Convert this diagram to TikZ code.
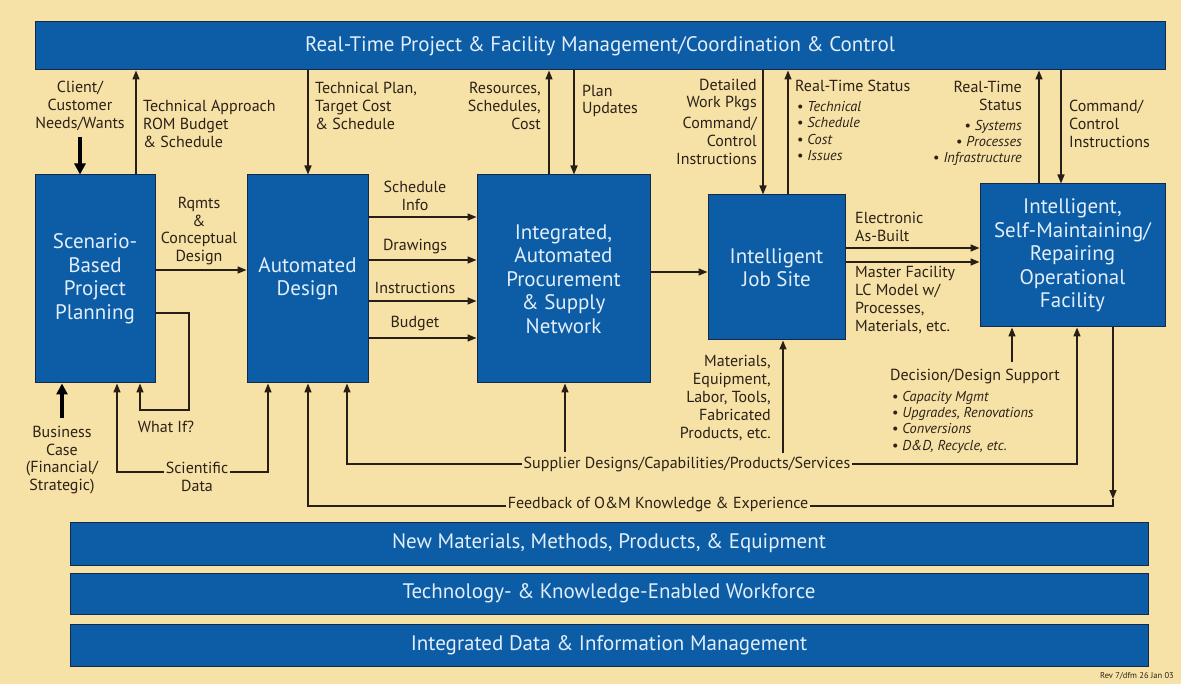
\documentclass[tikz,border=0pt]{standalone}
\usepackage{fontspec}
\setmainfont{PT Sans}
\usetikzlibrary{arrows.meta}
\definecolor{bgc}{HTML}{F6E2A6}
\definecolor{boxc}{HTML}{0C5CA6}
\definecolor{edgec}{HTML}{14284A}
\definecolor{boxtxt}{HTML}{E2EEFA}
\definecolor{lbl}{HTML}{2B2118}
\tikzset{
  box/.style={draw=edgec, line width=1pt, fill=boxc, text=boxtxt, align=center, inner sep=0pt,
    font=\fontsize{21}{23.5}\selectfont},
  bar/.style={box, minimum width=1078pt},
  lab/.style={text=lbl, inner sep=0pt, font=\fontsize{16}{17.8}\selectfont},
  bul/.style={text=lbl, inner sep=0pt, font=\fontsize{14.3}{16.3}\selectfont\itshape},
  cut/.style={lab, fill=bgc, inner xsep=2pt, inner ysep=1pt},
  conn/.style={draw=lbl!90!black, line width=1.5pt},
  arr/.style={conn, -{Triangle[length=9pt,width=7pt]}},
  arrb/.style={conn, {Triangle[length=9pt,width=7pt]}-{Triangle[length=9pt,width=7pt]}},
  thickarr/.style={draw=black, line width=3.5pt, -{Triangle[length=11pt,width=11pt]}},
}
\begin{document}
\begin{tikzpicture}[x=1pt,y=-1pt]
\fill[bgc] (0,0) rectangle (1181,684);
\useasboundingbox (0,0) rectangle (1181,684);

% column / row helper coordinates
\coordinate (x80) at (80,0);
\coordinate (x136) at (136,0);
\coordinate (x62) at (62,0);
\coordinate (x117) at (117,0);
\coordinate (x140) at (140,0);
\coordinate (x188) at (189,0);
\coordinate (x268) at (268,0);
\coordinate (x308) at (308,0);
\coordinate (x347) at (347,0);
\coordinate (x549) at (549,0);
\coordinate (x565) at (565,0);
\coordinate (x574) at (574,0);
\coordinate (x763) at (763,0);
\coordinate (x783) at (783,0);
\coordinate (x788) at (788,0);
\coordinate (x1012) at (1012,0);
\coordinate (x1039) at (1039,0);
\coordinate (x1061) at (1061,0);
\coordinate (x1077) at (1077,0);
\coordinate (x1113) at (1113,0);
\coordinate (y217) at (0,217);
\coordinate (y260) at (0,260);
\coordinate (y301) at (0,301);
\coordinate (y338) at (0,338);
\coordinate (y270) at (0,270);
\coordinate (y272) at (0,272);
\coordinate (y248) at (0,248);
\coordinate (y262) at (0,262);
\coordinate (y313) at (0,313);
\coordinate (y410) at (0,410);
\coordinate (y472) at (0,472);
\coordinate (ySup) at (0,464);
\coordinate (yFb) at (0,506);

% main boxes
\node[box, minimum width=1130pt, minimum height=48pt] (top) at (600,46)
  {Real-Time Project \& Facility Management/Coordination \& Control};
\node[box, minimum width=120pt, minimum height=208pt] (scen) at (95,279)
  {Scenario-\\Based\\Project\\Planning};
\node[box, minimum width=121pt, minimum height=208pt] (ad) at (307.5,279)
  {Automated\\Design};
\node[box, minimum width=173pt, minimum height=208pt] (proc) at (563.5,279)
  {Integrated,\\Automated\\Procurement\\\& Supply\\Network};
\node[box, minimum width=137pt, minimum height=145pt] (job) at (776.5,267.5)
  {Intelligent\\Job Site};
\node[box, minimum width=185pt, minimum height=143pt] (fac) at (1072.5,255.5)
  {Intelligent,\\Self-Maintaining/\\Repairing\\Operational\\Facility};

\node[bar, minimum height=43pt] (bar1) at (609,543.5) {New Materials, Methods, Products, \& Equipment};
\node[bar, minimum height=41pt] (bar2) at (609,593.5) {Technology- \& Knowledge-Enabled Workforce};
\node[bar, minimum height=42pt] (bar3) at (609,645) {Integrated Data \& Information Management};

% --- Scenario-based planning connectors
\node[lab, align=center] (client) at (80,106) {Client/\\Customer\\Needs/Wants};
\draw[thickarr] (client.south -| x80) ++(0,6) -- (scen.north -| x80);
\draw[arr] (scen.north -| x136) -- (top.south -| x136);
\node[lab, align=left, anchor=west] (techapp) at (143,124) {Technical Approach\\ROM Budget\\\& Schedule};
\node[lab, align=center] (rqmts) at (199,231) {Rqmts\\\&\\Conceptual\\Design};
\draw[arr] (scen.east |- y270) -- (ad.west |- y270);

% What if loop
\draw[arr] (scen.east |- y313) -- (x188 |- y313) -- (x188 |- y410) -- (x140 |- y410) -- (scen.south -| x140);
\node[lab] (whatif) at (166,427) {What If?};

% Business case
\node[lab, align=center] (biz) at (62,460) {Business\\Case\\(Financial/\\Strategic)};
\draw[thickarr] (biz.north -| x62) ++(0,-8) -- (scen.south -| x62);

% Scientific data
\draw[arrb] (scen.south -| x117) -- (x117 |- y472) -- (x268 |- y472) -- (ad.south -| x268);
\node[cut, align=center] (sci) at (197,477) {Scientific\\Data};

% --- Automated design
\draw[arr] (top.south -| x308) -- (ad.north -| x308);
\node[lab, align=left, anchor=west] (techplan) at (315,106) {Technical Plan,\\Target Cost\\\& Schedule};

\draw[arr] (ad.east |- y217) -- (proc.west |- y217);
\draw[arr] (ad.east |- y260) -- (proc.west |- y260);
\draw[arr] (ad.east |- y301) -- (proc.west |- y301);
\draw[arr] (ad.east |- y338) -- (proc.west |- y338);
\node[lab, align=center] (schedinfo) at (415,196) {Schedule\\Info};
\node[lab] (drawings) at (415,247) {Drawings};
\node[lab] (instr) at (415,288) {Instructions};
\node[lab] (budget) at (415,324) {Budget};

% --- Procurement
\draw[arr] (proc.north -| x549) -- (top.south -| x549);
\draw[arr] (top.south -| x574) -- (proc.north -| x574);
\node[lab, align=right, anchor=east] (resources) at (541,106) {Resources,\\Schedules,\\Cost};
\node[lab, align=left, anchor=west] (planupd) at (582,101) {Plan\\Updates};
\draw[arr] (proc.east |- y272) -- (job.west |- y272);

% --- Job site
\draw[arr] (top.south -| x763) -- (job.north -| x763);
\draw[arr] (job.north -| x788) -- (top.south -| x788);
\node[lab, align=right, anchor=east] (detailed) at (757,95) {Detailed\\Work Pkgs};
\node[lab, align=right, anchor=east] (cmd1) at (757,141) {Command/\\Control\\Instructions};
\node[lab, anchor=west] (rts1) at (795,86) {Real-Time Status};
\node[bul, align=left, anchor=west] (rts1b) at (797,131) {\upshape•\ \itshape Technical\\\upshape•\ \itshape Schedule\\\upshape•\ \itshape Cost\\\upshape•\ \itshape Issues};

\draw[arr] (job.east |- y248) -- (fac.west |- y248);
\draw[arr] (job.east |- y262) -- (fac.west |- y262);
\node[lab, align=left, anchor=west] (elec) at (855,227) {Electronic\\As-Built};
\node[lab, align=left, anchor=west] (master) at (855,300) {Master Facility\\LC Model w/\\Processes,\\Materials, etc.};

\coordinate (matfoot) at (783,453);
\draw[arr] (matfoot) -- (job.south -| x783);
\node[lab, align=right, anchor=east] (materials) at (771,398) {Materials,\\Equipment,\\Labor, Tools,\\Fabricated\\Products, etc.};

% --- Facility
\draw[arr] (fac.north -| x1039) -- (top.south -| x1039);
\draw[arr] (top.south -| x1061) -- (fac.north -| x1061);
\node[lab, align=right, anchor=east] (rts2) at (1022,96) {Real-Time\\Status};
\node[bul, align=right, anchor=east] (rts2b) at (1022,143) {\upshape•\ \itshape Systems\\\upshape•\ \itshape Processes\\\upshape•\ \itshape Infrastructure};
\node[lab, align=left, anchor=west] (cmd2) at (1069,124) {Command/\\Control\\Instructions};

\coordinate (decfoot) at (1012,362);
\draw[arr] (decfoot) -- (fac.south -| x1012);
\node[lab, anchor=west] (decision) at (890,377) {Decision/Design Support};
\node[bul, align=left, anchor=west] (decb) at (892,422) {\upshape•\ \itshape Capacity Mgmt\\\upshape•\ \itshape Upgrades, Renovations\\\upshape•\ \itshape Conversions\\\upshape•\ \itshape D\&D, Recycle, etc.};

% --- Supplier line
\draw[arrb] (ad.south -| x347) -- (x347 |- ySup) -- (x1077 |- ySup) -- (fac.south -| x1077);
\coordinate (procfoot) at (565,452);
\draw[arr] (procfoot) -- (proc.south -| x565);
\node[cut] (supplier) at (687,464) {Supplier Designs/Capabilities/Products/Services};

% --- Feedback line
\coordinate (fbturn) at (1113,499);
\draw[arr] (fac.south -| x1113) -- (fbturn);
\draw[arr] (fbturn) -- (x1113 |- yFb) -- (x308 |- yFb) -- (ad.south -| x308);
\node[cut] (feedback) at (658,504) {Feedback of O\&M Knowledge \& Experience};

\node[text=lbl, inner sep=0pt, font=\fontsize{8.5}{10}\selectfont, anchor=east] (rev) at (1174,676) {Rev 7/dfm 26 Jan 03};
\end{tikzpicture}
\end{document}
